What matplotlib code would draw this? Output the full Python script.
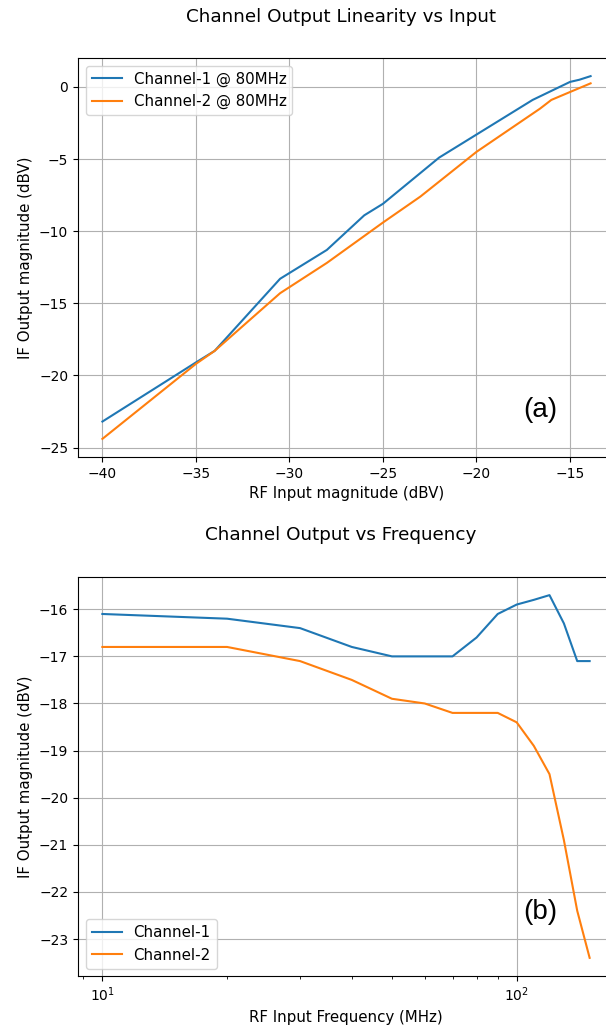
import matplotlib
matplotlib.use("Agg")
import matplotlib.pyplot as plt

# Linearity sweep at 80 MHz (RF input dBV -> IF output dBV)
lin_x_ch1 = [-40, -35, -34, -30.5, -28, -26, -25, -22, -20, -17, -15, -14.5, -13.9]
lin_y_ch1 = [-23.2, -19.1, -18.3, -13.3, -11.3, -8.9, -8.1, -4.9, -3.3, -0.9, 0.35, 0.5, 0.75]
lin_x_ch2 = [-40, -35, -34, -30.5, -28, -25, -23, -20, -16.6, -16, -15, -13.9]
lin_y_ch2 = [-24.4, -19.2, -18.3, -14.3, -12.2, -9.4, -7.6, -4.5, -1.5, -0.9, -0.35, 0.25]

# Frequency sweep (MHz -> IF output dBV)
freq_mhz = [10, 20, 30, 40, 50, 60, 70, 80, 90, 100, 110, 120, 130, 140, 150]
freq_ch1 = [-16.1, -16.2, -16.4, -16.8, -17.0, -17.0, -17.0, -16.6, -16.1, -15.9,
            -15.8, -15.7, -16.3, -17.1, -17.1]
freq_ch2 = [-16.8, -16.8, -17.1, -17.5, -17.9, -18.0, -18.2, -18.2, -18.2, -18.4,
            -18.9, -19.5, -20.9, -22.4, -23.4]

W, H = 606, 1031
fig = plt.figure(figsize=(W / 100, H / 100), dpi=100)

def px_axes(left, top, right, bottom):
    return fig.add_axes([left / W, 1 - bottom / H, (right - left) / W, (bottom - top) / H])

TITLE_FS = 13.2
LABEL_FS = 10.8
LEGEND_FS = 10.8
TAG_FS = 20

# (a) linearity
ax1 = px_axes(78, 58, 615, 457)
ax1.plot(lin_x_ch1, lin_y_ch1, label="Channel-1 @ 80MHz")
ax1.plot(lin_x_ch2, lin_y_ch2, label="Channel-2 @ 80MHz")
ax1.set_title("Channel Output Linearity vs Input", fontsize=TITLE_FS, pad=26, x=0.49)
ax1.set_xlabel("RF Input magnitude (dBV)", fontsize=LABEL_FS)
ax1.set_ylabel("IF Output magnitude (dBV)", fontsize=LABEL_FS)
ax1.grid(True)
ax1.legend(loc="upper left", fontsize=LEGEND_FS)
ax1.text(540 / W, 1 - 410 / H, "(a)", transform=fig.transFigure, fontsize=TAG_FS,
         family="Liberation Sans", ha="center", va="center")

# (b) frequency response
ax2 = px_axes(78, 577, 614, 976)
ax2.plot(freq_mhz, freq_ch1, label="Channel-1")
ax2.plot(freq_mhz, freq_ch2, label="Channel-2")
ax2.set_xscale("log")
ax2.set_title("Channel Output vs Frequency", fontsize=TITLE_FS, pad=27, x=0.49)
ax2.set_xlabel("RF Input Frequency (MHz)", fontsize=LABEL_FS)
ax2.set_ylabel("IF Output magnitude (dBV)", fontsize=LABEL_FS)
ax2.grid(True)
ax2.legend(loc="lower left", fontsize=LEGEND_FS)
ax2.text(540 / W, 1 - 912 / H, "(b)", transform=fig.transFigure, fontsize=TAG_FS,
         family="Liberation Sans", ha="center", va="center")

fig.savefig("out.png", dpi=100)
